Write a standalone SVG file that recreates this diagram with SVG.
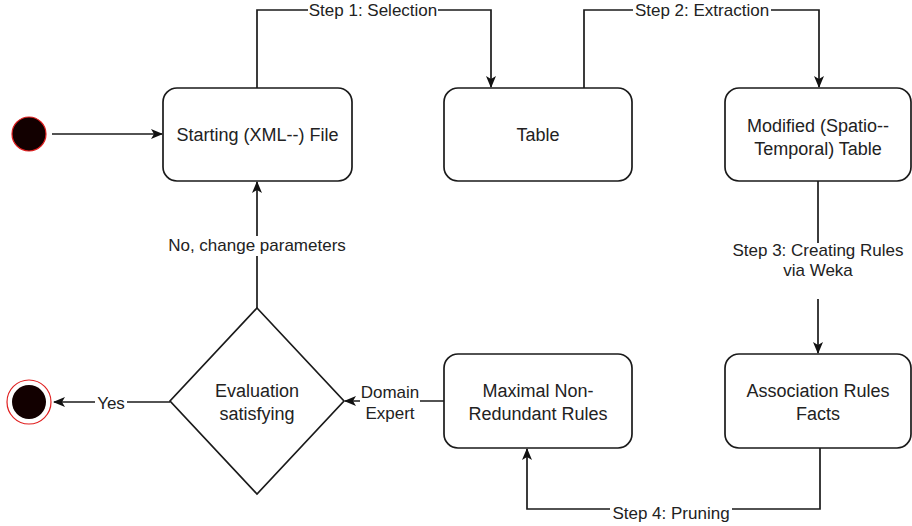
<svg xmlns="http://www.w3.org/2000/svg" width="912" height="526" viewBox="0 0 912 526">
  <defs>
    <marker id="arrow" viewBox="0 0 12 10" refX="11" refY="5" markerWidth="12" markerHeight="10" markerUnits="userSpaceOnUse" orient="auto">
      <path d="M0,0 L12,5 L0,10 L3,5 Z" fill="#111"/>
    </marker>
    <style>
      .box { fill: #fff; stroke: #1a1a1a; stroke-width: 1.7; }
      .node-text { font-family: "Liberation Sans", Arial, sans-serif; font-size: 18px; fill: #222; text-anchor: middle; }
      .edge { fill: none; stroke: #1a1a1a; stroke-width: 1.7; }
      .edge-label { font-family: "Liberation Sans", Arial, sans-serif; font-size: 17px; fill: #222; text-anchor: middle; }
      .label-bg { fill: #fff; }
    </style>
  </defs>
  <rect width="912" height="526" fill="#fff"/>

  <!-- connectors -->
  <g id="connectors">
    <path class="edge" d="M52,134 L162,134" marker-end="url(#arrow)"/>
    <path class="edge" d="M257,88 L257,10 L491,10 L491,87" marker-end="url(#arrow)"/>
    <rect class="label-bg" x="308" y="2" width="130" height="18"/>
    <text class="edge-label" x="373" y="16">Step 1: Selection</text>
    <path class="edge" d="M584,88 L584,10 L819,10 L819,87" marker-end="url(#arrow)"/>
    <rect class="label-bg" x="633" y="2" width="138" height="18"/>
    <text class="edge-label" x="702" y="16">Step 2: Extraction</text>
    <path class="edge" d="M818,181 L818,353" marker-end="url(#arrow)"/>
    <rect class="label-bg" x="726" y="243" width="184" height="56"/>
    <text class="edge-label" x="818" y="256">Step 3: Creating Rules</text>
    <text class="edge-label" x="818" y="276">via Weka</text>
    <path class="edge" d="M820,448 L820,509 L527,509 L527,449" marker-end="url(#arrow)"/>
    <rect class="label-bg" x="610" y="500" width="122" height="20"/>
    <text class="edge-label" x="671" y="519">Step 4: Pruning</text>
    <path class="edge" d="M444,401 L345,401" marker-end="url(#arrow)"/>
    <rect class="label-bg" x="360" y="383" width="60" height="40"/>
    <text class="edge-label" x="390" y="398">Domain</text>
    <text class="edge-label" x="390" y="419">Expert</text>
    <path class="edge" d="M257,308 L257,182" marker-end="url(#arrow)"/>
    <rect class="label-bg" x="164" y="236" width="186" height="20"/>
    <text class="edge-label" x="257" y="251">No, change parameters</text>
    <path class="edge" d="M170,402 L54,402" marker-end="url(#arrow)"/>
    <rect class="label-bg" x="95" y="394" width="32" height="18"/>
    <text class="edge-label" x="111" y="409">Yes</text>
  </g>

  <!-- start state -->
  <g id="start">
    <circle cx="29" cy="134" r="17" fill="#120000" stroke="#e02020" stroke-width="1.2"/>
  </g>

  <!-- end state -->
  <g id="end">
    <circle cx="29" cy="402" r="22" fill="#fff" stroke="#e02020" stroke-width="1.2"/>
    <circle cx="29" cy="402" r="17" fill="#120000"/>
  </g>

  <g id="starting-file">
    <rect class="box" x="163" y="88" width="189" height="93" rx="14"/>
    <text class="node-text" x="257.5" y="141">Starting (XML--) File</text>
  </g>

  <g id="table">
    <rect class="box" x="444" y="88" width="188" height="93" rx="14"/>
    <text class="node-text" x="538" y="141">Table</text>
  </g>

  <g id="modified-table">
    <rect class="box" x="725" y="88" width="186" height="93" rx="14"/>
    <text class="node-text" x="818" y="132">Modified (Spatio--</text>
    <text class="node-text" x="818" y="155">Temporal) Table</text>
  </g>

  <g id="association-rules">
    <rect class="box" x="725" y="354" width="186" height="94" rx="14"/>
    <text class="node-text" x="818" y="397">Association Rules</text>
    <text class="node-text" x="818" y="420">Facts</text>
  </g>

  <g id="maximal-rules">
    <rect class="box" x="444" y="354" width="188" height="94" rx="14"/>
    <text class="node-text" x="538" y="397">Maximal Non-</text>
    <text class="node-text" x="538" y="420">Redundant Rules</text>
  </g>

  <g id="evaluation">
    <path class="box" d="M257,308 L344,401 L257,494 L170,401 Z"/>
    <text class="node-text" x="257" y="397">Evaluation</text>
    <text class="node-text" x="257" y="420">satisfying</text>
  </g>
</svg>
